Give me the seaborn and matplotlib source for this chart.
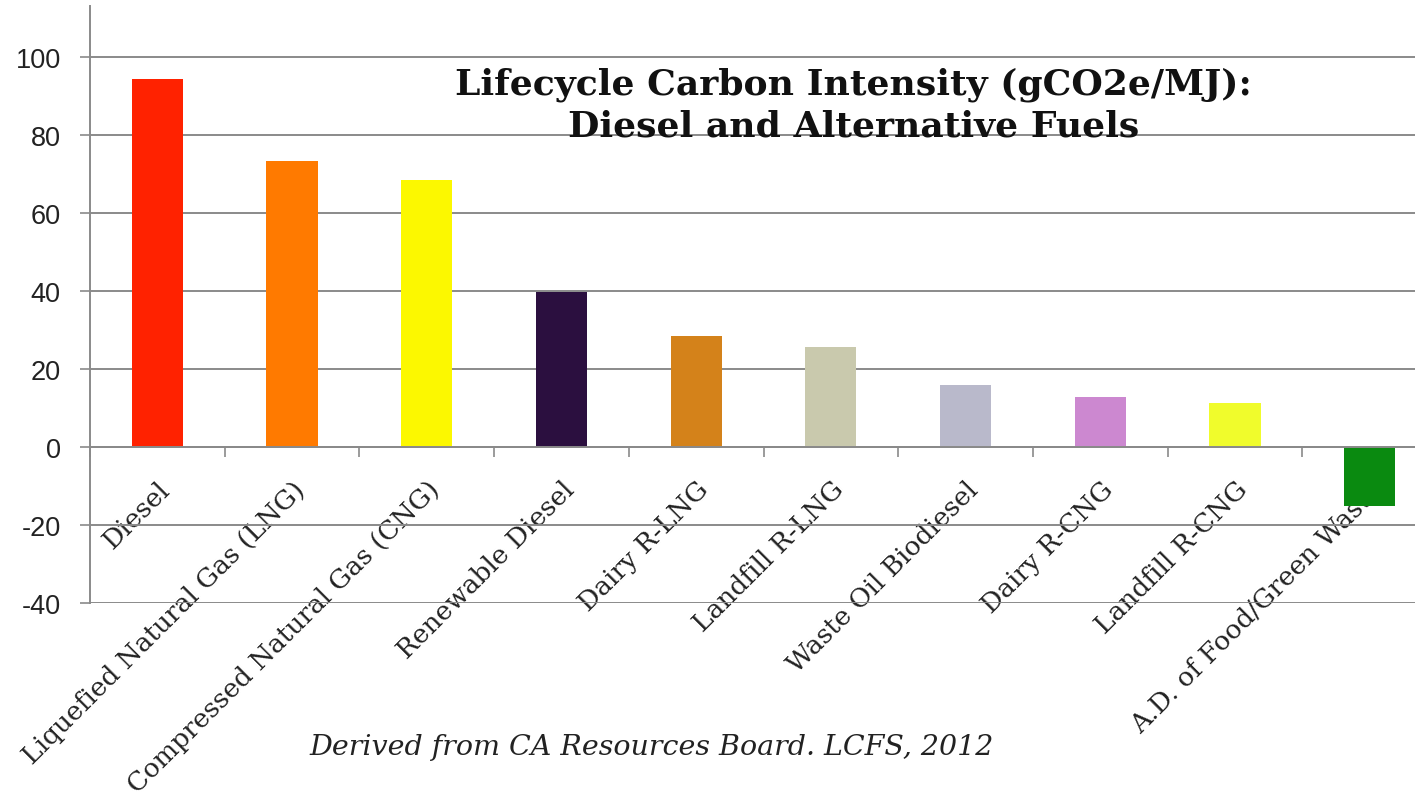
import matplotlib
matplotlib.use("Agg")
import matplotlib.pyplot as plt
import seaborn as sns
import numpy as np

categories = ["Diesel", "Liquefied Natural Gas (LNG)", "Compressed Natural Gas (CNG)",
              "Renewable Diesel", "Dairy R-LNG", "Landfill R-LNG", "Waste Oil Biodiesel",
              "Dairy R-CNG", "Landfill R-CNG", "A.D. of Food/Green Waste"]
values = [94.2, 73.4, 68.3, 39.8, 28.5, 25.7, 15.9, 12.8, 11.2, -15.2]
colors = ["#ff2200", "#ff7a00", "#fcf800", "#2b0f3f", "#d4821a",
          "#c9c9ad", "#b9b9cb", "#cc88d0", "#f0fc2c", "#0a8a10"]
yticks = [-40, -20, 0, 20, 40, 60, 80, 100]

sns.set_theme(style="white")
plt.rcParams['font.family'] = ['DejaVu Serif']

fig = plt.figure(figsize=(14.15, 8.04), dpi=100)
ax = fig.add_axes([0.0636, 0.2488, 0.952, 0.7425])

sns.barplot(x=categories, y=values, hue=categories, palette=colors, legend=False,
            width=0.38, saturation=1, ax=ax, linewidth=0, zorder=2)

ax.set_ylim(-40, 113)
ax.set_xlim(-0.5, len(categories) - 0.5)
ax.set_yticks(yticks)
ax.set_yticklabels([str(t) for t in yticks], fontfamily="Liberation Sans", fontsize=19.5, color="#222222")
ax.yaxis.grid(True, color="#8a8a8a", linewidth=1.4, zorder=0)
ax.set_axisbelow(True)

for s in ["top", "right"]:
    ax.spines[s].set_visible(False)
ax.spines["left"].set_color("#8a8a8a")
ax.spines["left"].set_linewidth(1.4)
ax.spines["bottom"].set_position(("data", 0))
ax.spines["bottom"].set_color("#8a8a8a")
ax.spines["bottom"].set_linewidth(1.4)

ax.tick_params(axis="y", which="major", left=True, length=7, width=1.2, color="#8a8a8a", pad=14)
ax.set_xticks(np.arange(len(categories)))
ax.set_xticks(np.arange(len(categories) + 1) - 0.5, minor=True)
ax.tick_params(axis="x", which="major", length=0, pad=21)
ax.tick_params(axis="x", which="minor", length=7, width=1.2, color="#8a8a8a", bottom=True)
ax.set_xticklabels(categories, rotation=45, ha="right", va="top", rotation_mode="anchor",
                   fontsize=19, color="#222222")
ax.set_xlabel("")
ax.set_ylabel("")

fig.text(0.603, 0.869, "Lifecycle Carbon Intensity (gCO2e/MJ):\nDiesel and Alternative Fuels",
         ha="center", va="center", fontsize=26, fontweight="bold", color="#111111",
         linespacing=1.3)
fig.text(0.4608, 0.070, "Derived from CA Resources Board. LCFS, 2012",
         ha="center", va="center", fontsize=20.5, fontstyle="italic", color="#222222")

fig.savefig("out.png", dpi=100, facecolor="white")
